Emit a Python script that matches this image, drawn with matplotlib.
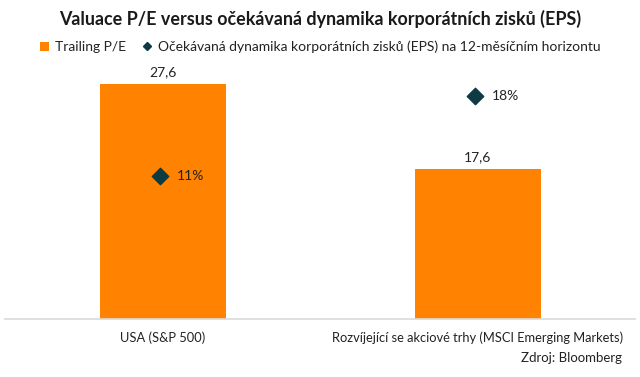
import matplotlib
matplotlib.use("Agg")
import matplotlib.pyplot as plt
from matplotlib.lines import Line2D
from matplotlib.patches import Patch

categories = ["USA (S&P 500)", "Rozvíjející se akciové trhy (MSCI Emerging Markets)"]
trailing_pe = [27.6, 17.6]
eps_growth = [11, 18]
pe_labels = ["27,6", "17,6"]
eps_labels = ["11%", "18%"]

title = "Valuace P/E versus očekávaná dynamika korporátních zisků (EPS)"
legend_labels = ["Trailing P/E", "Očekávaná dynamika korporátních zisků (EPS) na 12-měsíčním horizontu"]
source = "Zdroj: Bloomberg"

ORANGE = "#FF8200"
DIAMOND = "#0E3A44"
FONT = ["Lato", "DejaVu Sans"]
plt.rcParams['font.family'] = FONT

fig = plt.figure(figsize=(6.4, 3.77), dpi=100)
ax = fig.add_axes([5/640, 1 - 319/377, 630/640, (319 - 60)/377])
x = list(range(len(categories)))
ax.bar(x, trailing_pe, width=0.40, color=ORANGE, zorder=2)
ax.set_xlim(-0.5, 1.5)
ax.set_ylim(0, 259 / 8.52)
for xi, v, lab in zip(x, trailing_pe, pe_labels):
    ax.annotate(lab, (xi, v), xytext=(0, 4), textcoords="offset points",
                ha="center", va="bottom", fontsize=10, color="#222222")
for s in ["top", "left", "right"]:
    ax.spines[s].set_visible(False)
ax.spines["bottom"].set_color("#D9D9D9")
ax.spines["bottom"].set_linewidth(1.2)
ax.set_yticks([])
ax.set_xticks(x)
ax.set_xticklabels(categories, fontsize=9.3, color="#222222")
ax.tick_params(axis="x", length=0, pad=9)

ax2 = ax.twinx()
b = 11.47
a = 302.2
ax2.set_ylim((a - 319) / b, (a - 60) / b)
ax2.scatter([xi - 0.007 for xi in x], eps_growth, marker="D", s=70, color=DIAMOND, zorder=3)
for xi, v, lab in zip(x, eps_growth, eps_labels):
    ax2.annotate(lab, (xi, v), xytext=(10, 0), textcoords="offset points",
                 ha="left", va="center", fontsize=10, color="#222222")
ax2.axis("off")

fig.text(0.5, 1 - 19/377, title, ha="center", va="center", fontsize=12.9,
         fontweight="bold", color="#1a1a1a")
handles = [Patch(facecolor=ORANGE, edgecolor="none"),
           Line2D([], [], marker="D", linestyle="none", color=DIAMOND, markersize=4)]
fig.legend(handles, legend_labels, loc="center", bbox_to_anchor=(0.5, 1 - 47/377),
           ncol=2, frameon=False, fontsize=10, handlelength=0.7, handleheight=0.7,
           handletextpad=0.4, columnspacing=1.2, labelcolor="#222222")
fig.text(1 - 18/640, 1 - 358/377, source, ha="right", va="center", fontsize=9.5, color="#222222")

fig.savefig("out.png", dpi=100)
